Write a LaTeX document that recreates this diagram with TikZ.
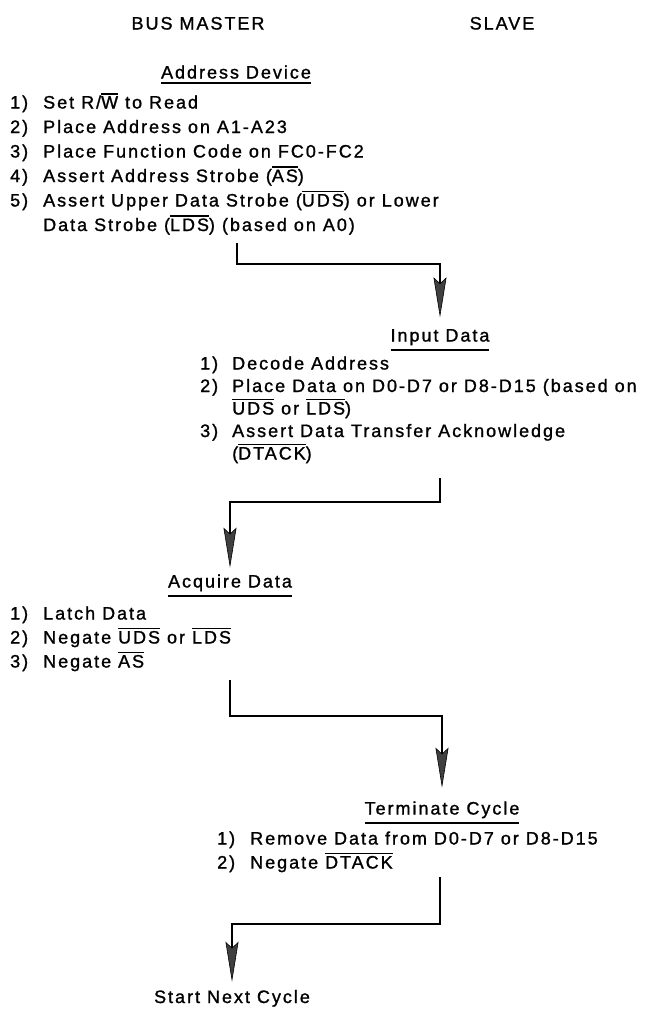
\documentclass[tikz,border=0pt]{standalone}
\usepackage{fontspec}
\setmainfont{Liberation Sans}[LetterSpace=11,FakeBold=1.2]
\usetikzlibrary{arrows.meta,calc}
\newcommand{\ovl}[1]{\vbox{\hrule height 1.4pt\kern1.6pt\hbox{#1}}}
\newcommand{\uln}[1]{\vtop{\hbox{#1}\kern3.5pt\hrule height 1.8pt}}
\begin{document}
\begin{tikzpicture}[x=1pt,y=-1pt,
  >={Stealth[length=40pt,width=13pt,inset=6pt,line width=.6pt,fill=black!75]},
  every node/.style={inner sep=0pt,font=\fontsize{18}{24}\selectfont},
  steps/.style={anchor=base west,align=left},
  flow/.style={->,line width=1.8pt}]
  \useasboundingbox (0,0) rectangle (645,1009);

  \node[anchor=base] (master) at (198,29.5) {BUS MASTER};
  \node[anchor=base] (slave) at (502,29.5) {SLAVE};

  \node[anchor=base] (address) at (236,78.5) {\uln{Address Device}};
  \node[steps,font=\fontsize{18}{24.5}\selectfont] (addrsteps) at (10,108.5)
    {\begin{tabular}[t]{@{}p{33pt}@{}l@{}}
     1) & Set R/\ovl{W} to Read\\
     2) & Place Address on A1-A23\\
     3) & Place Function Code on FC0-FC2\\
     4) & Assert Address Strobe (\ovl{AS})\\
     5) & Assert Upper Data Strobe (\ovl{UDS}) or Lower\\
        & Data Strobe (\ovl{LDS}) (based on A0)
     \end{tabular}};

  \node[anchor=base] (input) at (440,341.5) {\uln{Input Data}};
  \node[steps,font=\fontsize{18}{22.5}\selectfont] (inputsteps) at (200,369.5)
    {\begin{tabular}[t]{@{}p{32pt}@{}l@{}}
     1) & Decode Address\\
     2) & Place Data on D0-D7 or D8-D15 (based on\\
        & \ovl{UDS} or \ovl{LDS})\\
     3) & Assert Data Transfer Acknowledge\\
        & (\ovl{DTACK})
     \end{tabular}};

  \node[anchor=base] (acquire) at (230,587.5) {\uln{Acquire Data}};
  \node[steps] (acqsteps) at (10,619.5)
    {\begin{tabular}[t]{@{}p{33pt}@{}l@{}}
     1) & Latch Data\\
     2) & Negate \ovl{UDS} or \ovl{LDS}\\
     3) & Negate \ovl{AS}
     \end{tabular}};

  \node[anchor=base] (terminate) at (442,814.5) {\uln{Terminate Cycle}};
  \node[steps] (termsteps) at (217,844.5)
    {\begin{tabular}[t]{@{}p{33pt}@{}l@{}}
     1) & Remove Data from D0-D7 or D8-D15\\
     2) & Negate \ovl{DTACK}
     \end{tabular}};

  \node[anchor=base] (next) at (232,1003) {Start Next Cycle};

  \coordinate (c1) at (237,243);
  \coordinate (c2) at (440,478);
  \coordinate (c3) at (230,680);
  \coordinate (c4) at (440,877);
  \draw[flow,shorten >=11.6pt] (c1) -- ++(0,21) -| (input.north);
  \draw[flow,shorten >=6.6pt] (c2) -- ++(0,24) -| (acquire.north);
  \draw[flow,shorten >=13.6pt] (c3) -- ++(0,36) -| (terminate.north);
  \draw[flow,shorten >=8pt] (c4) -- ++(0,47) -| (next.north);
\end{tikzpicture}
\end{document}
